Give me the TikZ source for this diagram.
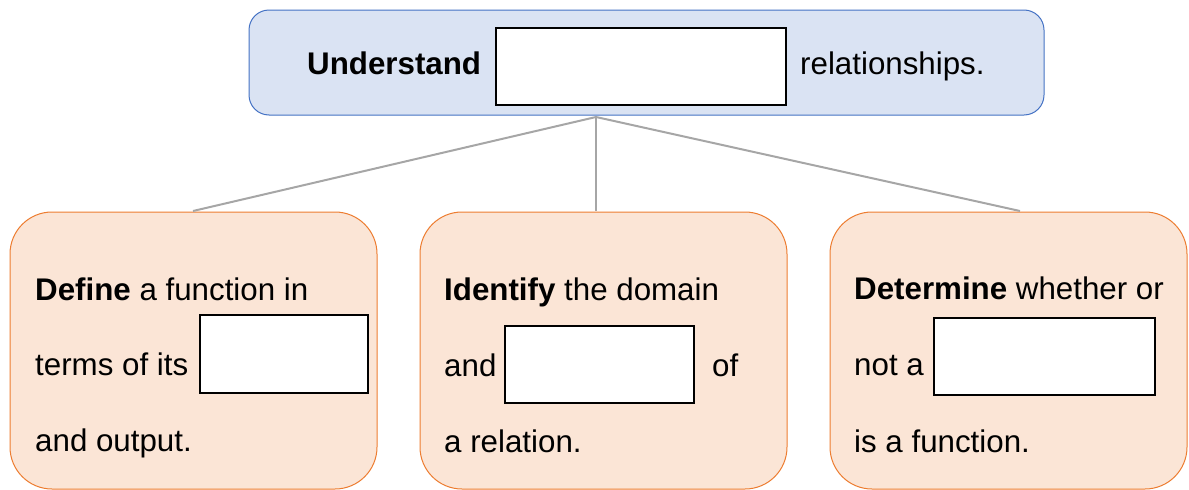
\documentclass[tikz,border=0pt]{standalone}
\usepackage{fontspec}
\setmainfont{Liberation Sans}
\definecolor{goalfill}{HTML}{DAE3F3}
\definecolor{goalline}{HTML}{4472C4}
\definecolor{stepfill}{HTML}{FBE5D6}
\definecolor{stepline}{HTML}{ED7D31}
\definecolor{linkgray}{HTML}{A6A6A6}
\tikzset{
  goalbox/.style={draw=goalline, fill=goalfill, line width=1pt, rounded corners=20pt},
  stepbox/.style={draw=stepline, fill=stepfill, line width=1pt, rounded corners=42pt},
  blank/.style={draw=black, fill=white, line width=2pt},
  txt/.style={anchor=base west, inner sep=0pt, font=\fontsize{31.3}{36}\selectfont},
  link/.style={draw=linkgray, line width=2pt}
}
\begin{document}
\begin{tikzpicture}[x=1pt, y=-1pt]
\useasboundingbox (0,0) rectangle (1189,490);

% goal box
\path[goalbox] (249,10) rectangle (1044,115);
\node[txt] (u1) at (307,74) {\textbf{Understand}};
\path[blank] (496,28) rectangle (786,105);
\node[txt] (u2) at (800,74) {relationships.};

% three step boxes
\path[stepbox] (10,212) rectangle (377,489);
\path[stepbox] (420,212) rectangle (787,489);
\path[stepbox] (830,212) rectangle (1187,489);

% connectors from the goal box to the steps
\coordinate (hub) at (596,117);
\coordinate (s1) at (193,211);
\coordinate (s2) at (596,211);
\coordinate (s3) at (1020,211);
\draw[link] (hub) -- (s1);
\draw[link] (hub) -- (s2);
\draw[link] (hub) -- (s3);

% step 1
\node[txt] (a1) at (35,300) {\textbf{Define} a function in};
\node[txt] (a2) at (35,375) {terms of its};
\path[blank] (200,315) rectangle (368,393);
\node[txt] (a3) at (35,451) {and output.};

% step 2
\node[txt] (b1) at (444,300) {\textbf{Identify} the domain};
\node[txt] (b2) at (444,376) {and};
\path[blank] (505,326) rectangle (694,403);
\node[txt] (b3) at (712,376) {of};
\node[txt] (b4) at (444,452) {a relation.};

% step 3
\node[txt] (c1) at (854,299) {\textbf{Determine} whether or};
\node[txt] (c2) at (854,375) {not a};
\path[blank] (934,318) rectangle (1155,395);
\node[txt] (c3) at (854,452) {is a function.};
\end{tikzpicture}
\end{document}
